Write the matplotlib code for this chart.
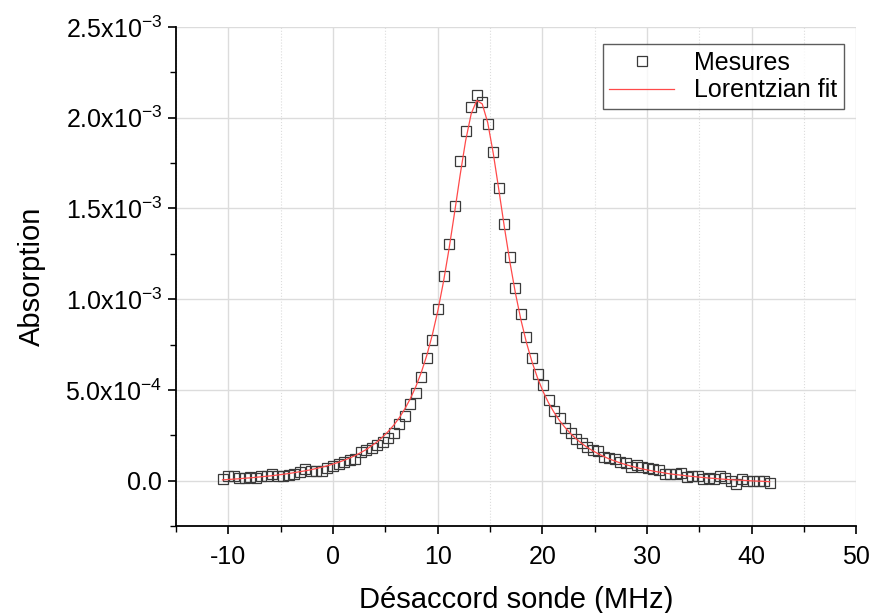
import numpy as np
import matplotlib
matplotlib.use("Agg")
import matplotlib.pyplot as plt
from matplotlib.ticker import MultipleLocator, FixedLocator

plt.rcParams['font.family'] = ['Liberation Sans', 'DejaVu Sans']
plt.rcParams['mathtext.fontset'] = 'custom'
plt.rcParams['mathtext.rm'] = 'Liberation Sans'
plt.rcParams['mathtext.it'] = 'Liberation Sans:italic'
plt.rcParams['axes.unicode_minus'] = False

# detuning (MHz)
detuning = [-10.55, -10.02, -9.49, -8.97, -8.44, -7.91, -7.38, -6.85, -6.33, -5.80,
            -5.27, -4.74, -4.21, -3.69, -3.16, -2.63, -2.10, -1.57, -1.05, -0.52,
            0.01, 0.54, 1.07, 1.59, 2.12, 2.65, 3.18, 3.71, 4.23, 4.76,
            5.29, 5.82, 6.35, 6.87, 7.40, 7.93, 8.46, 8.99, 9.51, 10.04,
            10.57, 11.10, 11.63, 12.15, 12.68, 13.21, 13.74, 14.27, 14.79, 15.32,
            15.85, 16.38, 16.91, 17.43, 17.96, 18.49, 19.02, 19.55, 20.07, 20.60,
            21.13, 21.66, 22.19, 22.71, 23.24, 23.77, 24.30, 24.83, 25.35, 25.88,
            26.41, 26.94, 27.47, 27.99, 28.52, 29.05, 29.58, 30.11, 30.63, 31.16,
            31.69, 32.22, 32.75, 33.27, 33.80, 34.33, 34.86, 35.39, 35.91, 36.44,
            36.97, 37.50, 38.03, 38.55, 39.08, 39.61, 40.14, 40.67, 41.19, 41.72]

# measured absorption (x1e-3)
mesures = [0.008, 0.024, 0.027, 0.013, 0.015, 0.020, 0.015, 0.027, 0.027, 0.037,
           0.027, 0.027, 0.031, 0.037, 0.046, 0.064, 0.055, 0.052, 0.055, 0.068,
           0.082, 0.092, 0.104, 0.115, 0.119, 0.156, 0.170, 0.178, 0.195, 0.215,
           0.235, 0.260, 0.311, 0.355, 0.420, 0.484, 0.572, 0.673, 0.773, 0.945,
           1.126, 1.306, 1.516, 1.760, 1.927, 2.057, 2.125, 2.088, 1.964, 1.812,
           1.615, 1.412, 1.233, 1.063, 0.920, 0.791, 0.677, 0.589, 0.526, 0.443,
           0.385, 0.343, 0.291, 0.260, 0.229, 0.205, 0.183, 0.170, 0.161, 0.128,
           0.123, 0.119, 0.104, 0.097, 0.077, 0.088, 0.073, 0.068, 0.063, 0.059,
           0.037, 0.037, 0.037, 0.041, 0.019, 0.027, 0.024, 0.008, 0.013, 0.009,
           0.024, 0.013, 0.000, -0.018, 0.009, -0.003, -0.003, 0.000, -0.003, -0.014]

# Lorentzian fit curve read at the same detunings (x1e-3)
fit = [0.004, 0.006, 0.008, 0.010, 0.013, 0.015, 0.018, 0.021, 0.024, 0.027,
       0.031, 0.035, 0.039, 0.044, 0.049, 0.054, 0.060, 0.067, 0.074, 0.082,
       0.091, 0.101, 0.112, 0.124, 0.138, 0.154, 0.171, 0.192, 0.214, 0.241,
       0.271, 0.306, 0.347, 0.395, 0.452, 0.519, 0.599, 0.694, 0.806, 0.940,
       1.098, 1.279, 1.479, 1.682, 1.873, 2.021, 2.095, 2.076, 1.973, 1.804,
       1.604, 1.398, 1.205, 1.036, 0.887, 0.761, 0.655, 0.566, 0.492, 0.429,
       0.376, 0.330, 0.292, 0.259, 0.230, 0.205, 0.183, 0.164, 0.148, 0.133,
       0.119, 0.108, 0.097, 0.088, 0.079, 0.071, 0.064, 0.058, 0.052, 0.047,
       0.042, 0.037, 0.033, 0.030, 0.026, 0.023, 0.020, 0.017, 0.014, 0.012,
       0.009, 0.007, 0.005, 0.003, 0.002, 0.000, -0.002, -0.003, -0.004, -0.006]

ytick_vals = [0.0, 0.5e-3, 1.0e-3, 1.5e-3, 2.0e-3, 2.5e-3]
ytick_labels = ['0.0', r'5.0x10$^{-4}$', r'1.0x10$^{-3}$', r'1.5x10$^{-3}$',
                r'2.0x10$^{-3}$', r'2.5x10$^{-3}$']

x = np.array(detuning)
y = np.array(mesures) * 1e-3
yf = np.array(fit) * 1e-3

fig = plt.figure(figsize=(8.71, 6.13), dpi=100)
ax = fig.add_axes([0.202, 0.142, 0.781, 0.814])

ax.plot(x, y, linestyle='none', marker='s', markersize=7.4,
        markerfacecolor='none', markeredgecolor='#3a3a3a', markeredgewidth=0.9,
        label='Mesures', zorder=3)
ax.plot(x, yf, color='#ff4a4a', linewidth=0.9, label='Lorentzian fit', zorder=4)

ax.set_xlim(-15, 50)
ax.set_ylim(-2.5e-4, 2.5e-3)
ax.xaxis.set_major_locator(MultipleLocator(10))
ax.xaxis.set_minor_locator(MultipleLocator(5))
ax.yaxis.set_major_locator(FixedLocator(ytick_vals))
ax.set_yticklabels(ytick_labels)
ax.yaxis.set_minor_locator(MultipleLocator(2.5e-4))

ax.grid(True, which='major', color='#dcdcdc', linewidth=1.0)
ax.grid(True, which='minor', axis='x', color='#dcdcdc', linewidth=0.8, linestyle=':')
ax.set_axisbelow(True)

for s in ['top', 'right']:
    ax.spines[s].set_visible(False)
for s in ['left', 'bottom']:
    ax.spines[s].set_linewidth(1.3)
    ax.spines[s].set_color('black')

ax.tick_params(axis='y', which='major', pad=4)
ax.tick_params(axis='x', which='major', pad=8)
ax.tick_params(which='major', direction='out', length=6, width=1.2, labelsize=18)
ax.tick_params(which='minor', direction='out', length=4, width=1.0)

ax.set_xlabel('Désaccord sonde (MHz)', fontsize=21, labelpad=12)
ax.set_ylabel('Absorption', fontsize=21, labelpad=14)

leg = ax.legend(loc='upper right', bbox_to_anchor=(1.0, 0.99), fontsize=18,
                frameon=True, fancybox=False, edgecolor='#333333',
                handlelength=2.6, borderpad=0.25, labelspacing=0.15)
leg.get_frame().set_linewidth(1.0)

fig.savefig('out.png', dpi=100)
